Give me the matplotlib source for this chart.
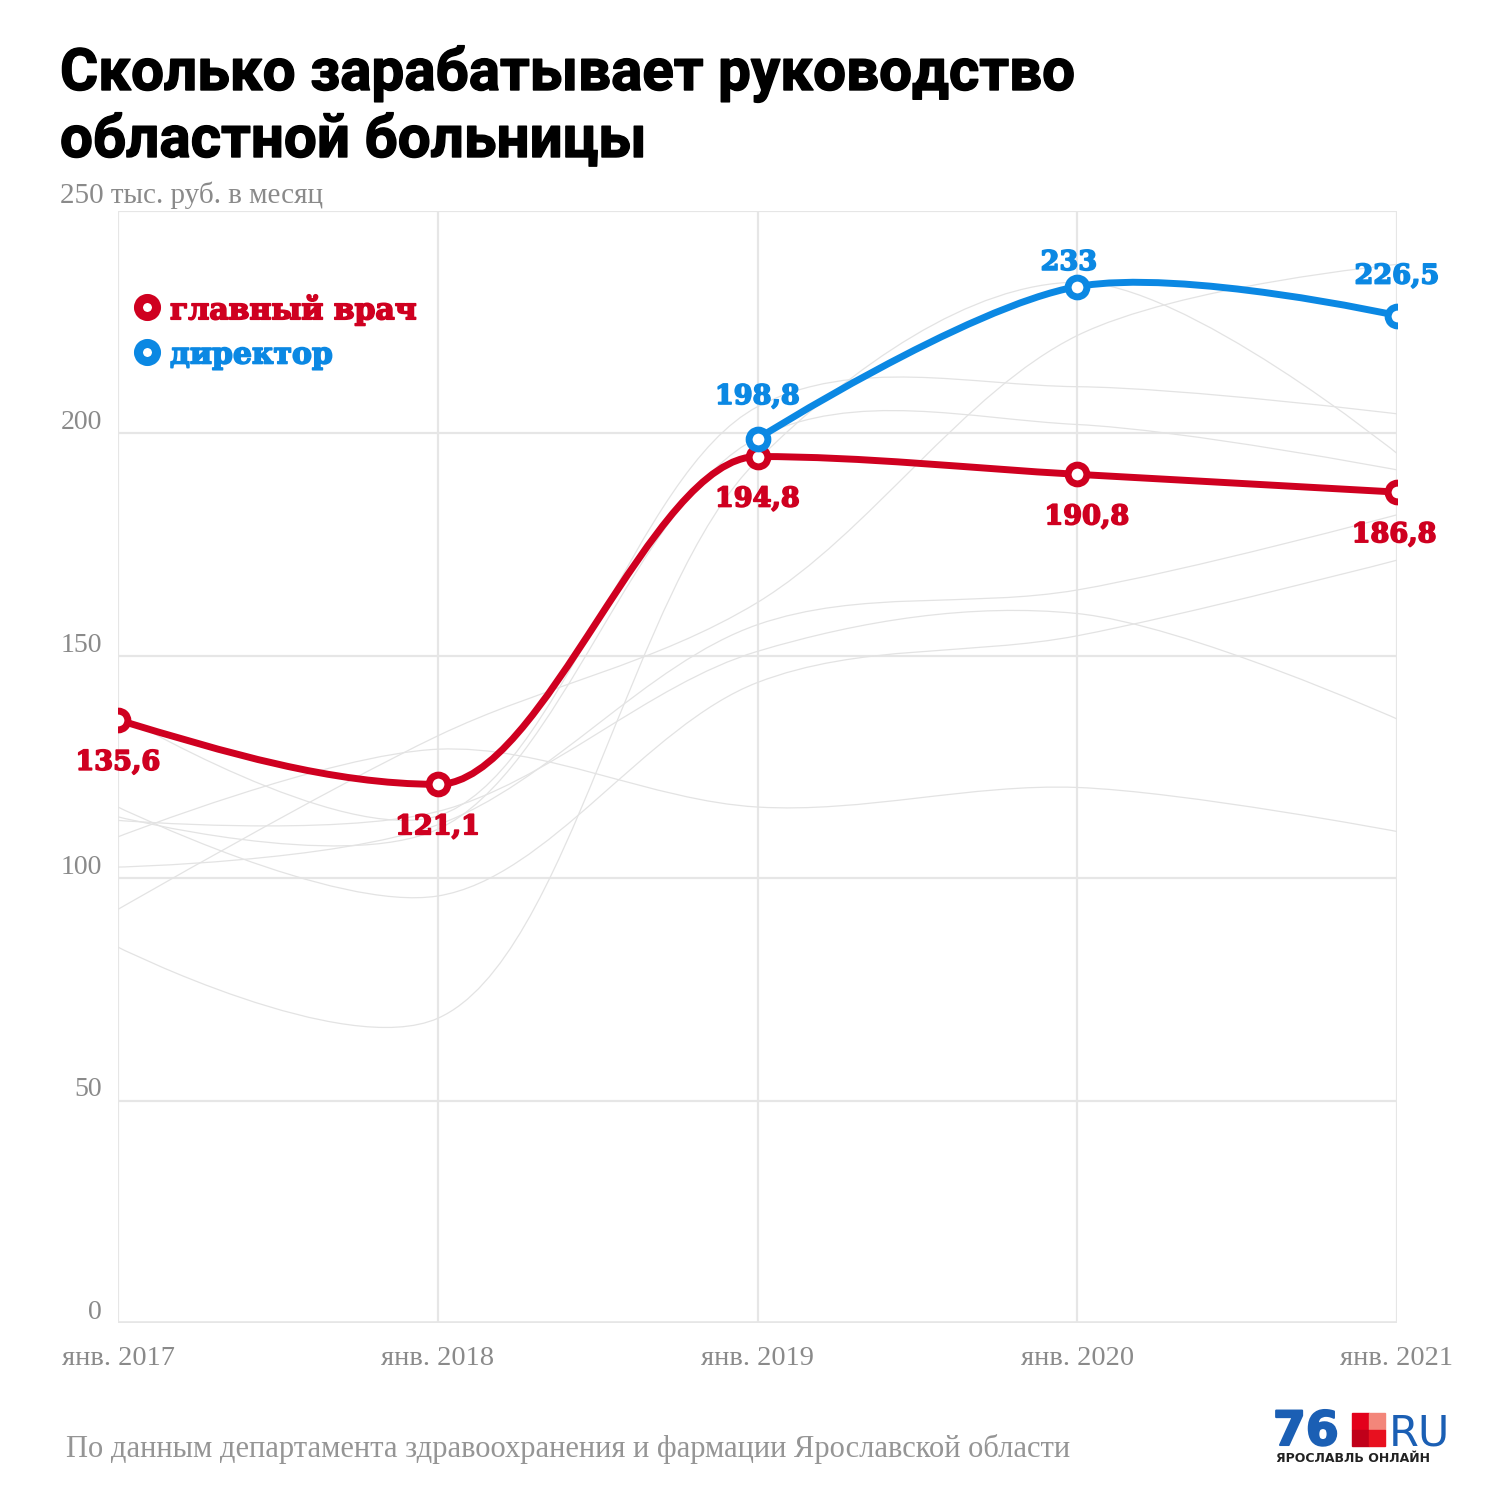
import numpy as np
import matplotlib
matplotlib.use("Agg")
import matplotlib.pyplot as plt
import matplotlib.patheffects as pe
from matplotlib.path import Path
from matplotlib.patches import PathPatch, Rectangle

# --- данные ---
years = ["янв. 2017", "янв. 2018", "янв. 2019", "янв. 2020", "янв. 2021"]
chief_doctor = [135.6, 121.1, 194.8, 190.8, 186.8]
chief_labels = ["135,6", "121,1", "194,8", "190,8", "186,8"]
director_years = [2, 3, 4]
director = [198.8, 233.0, 226.5]
director_labels = ["198,8", "233", "226,5"]
y_ticks = [0, 50, 100, 150, 200]
y_top = 250

# фоновые (серые) линии
bg_1 = [116.0, 96.0, 144.0, 154.5, 171.5]
bg_2 = [84.5, 68.5, 194.0, 234.0, 195.5]
bg_3 = [93.0, 132.0, 162.0, 222.0, 238.0]
bg_4 = [137.0, 114.0, 206.0, 210.5, 204.4]
bg_5 = [113.8, 111.0, 199.0, 202.0, 191.8]
bg_6 = [102.5, 112.0, 157.0, 164.8, 181.7]
bg_7 = [109.3, 129.0, 116.0, 120.4, 110.5]
bg_8 = [113.0, 115.0, 151.0, 159.5, 135.8]
background = [bg_1, bg_2, bg_3, bg_4, bg_5, bg_6, bg_7, bg_8]

RED = "#cf0020"
BLUE = "#0b88e3"
GRID = "#e6e6e6"
GREY = "#8a8a8a"


def catmull_rom(ax, xs, ys, alpha=0.5):
    """Кривая Катмулла-Рома (как d3.curveCatmullRom) в пиксельном пространстве"""
    pts = ax.transData.transform(np.column_stack([xs, ys]))
    n = len(pts)
    verts = [pts[0]]
    codes = [Path.MOVETO]
    for i in range(n - 1):
        p1, p2 = pts[i], pts[i + 1]
        l12 = np.linalg.norm(p2 - p1)
        l12_a, l12_2a = l12 ** alpha, l12 ** (2 * alpha)
        c1, c2 = p1.copy(), p2.copy()
        if i > 0:
            p0 = pts[i - 1]
            l01 = np.linalg.norm(p1 - p0)
            l01_a, l01_2a = l01 ** alpha, l01 ** (2 * alpha)
            a = 2 * l01_2a + 3 * l01_a * l12_a + l12_2a
            m = 3 * l01_a * (l01_a + l12_a)
            c1 = (p1 * a - p0 * l12_2a + p2 * l01_2a) / m
        if i + 2 < n:
            p3 = pts[i + 2]
            l23 = np.linalg.norm(p3 - p2)
            l23_a, l23_2a = l23 ** alpha, l23 ** (2 * alpha)
            b = 2 * l23_2a + 3 * l23_a * l12_a + l12_2a
            m = 3 * l23_a * (l23_a + l12_a)
            c2 = (p2 * b + p1 * l23_2a - p3 * l12_2a) / m
        verts += [c1, c2, p2]
        codes += [Path.CURVE4] * 3
    verts = ax.transData.inverted().transform(np.array(verts))
    return Path(verts, codes)


def monotone(xs, ys):
    """Монотонная кривая (как d3.curveMonotoneX)"""
    xs = np.asarray(xs, float)
    ys = np.asarray(ys, float)
    n = len(xs)
    h = np.diff(xs)
    s = np.diff(ys) / h
    t = np.zeros(n)
    for i in range(1, n - 1):
        p = (s[i - 1] * h[i] + s[i] * h[i - 1]) / (h[i - 1] + h[i])
        t[i] = (np.sign(s[i - 1]) + np.sign(s[i])) * min(abs(s[i - 1]), abs(s[i]), 0.5 * abs(p))
    t[0] = (3 * s[0] - t[1]) / 2
    t[-1] = (3 * s[-1] - t[-2]) / 2
    verts = [(xs[0], ys[0])]
    codes = [Path.MOVETO]
    for i in range(n - 1):
        dx = h[i] / 3
        verts += [(xs[i] + dx, ys[i] + dx * t[i]),
                  (xs[i + 1] - dx, ys[i + 1] - dx * t[i + 1]),
                  (xs[i + 1], ys[i + 1])]
        codes += [Path.CURVE4] * 3
    return Path(verts, codes)


fig = plt.figure(figsize=(15, 15), dpi=100)
ax = fig.add_axes([118 / 1500, 1 - 1323 / 1500, 1279 / 1500, 1112 / 1500])
ax.set_xlim(0, len(years) - 1)
ax.set_ylim(0, y_top)
for s in ax.spines.values():
    s.set_visible(False)
ax.set_xticks([])
ax.set_yticks([])

# сетка
for v in y_ticks + [y_top]:
    ax.axhline(v, color=GRID, lw=1.6, zorder=0)
ax.axhline(0, color=GRID, lw=2.6, zorder=0)
for i in range(len(years)):
    ax.axvline(i, color=GRID, lw=1.6, zorder=0)

serif = ["Liberation Serif", "DejaVu Serif"]
for v in y_ticks:
    ax.annotate(str(v), xy=(0, v), xycoords=("axes fraction", "data"),
                xytext=(-11.5, 3), textcoords="offset points",
                ha="right", va="baseline", fontsize=20, color=GREY, family=serif)
ax.annotate(f"{y_top} тыс. руб. в месяц", xy=(0, y_top), xycoords=("axes fraction", "data"),
            xytext=(-42, 5.5), textcoords="offset points",
            ha="left", va="baseline", fontsize=21, color=GREY, family=serif)
for i, lab in enumerate(years):
    ax.annotate(lab, xy=(i, 0), xycoords="data", xytext=(0, -30.5), textcoords="offset points",
                ha="center", va="baseline", fontsize=20.5, color=GREY, family=serif)

# фоновые линии
xs_all = np.arange(len(years))
for series in background:
    ax.add_patch(PathPatch(catmull_rom(ax, xs_all, series), fill=False,
                           edgecolor="#e3e3e3", lw=0.9, zorder=1))

# основные линии
ax.add_patch(PathPatch(monotone(xs_all, chief_doctor), fill=False,
                       edgecolor=RED, lw=5, zorder=3, capstyle="round"))
ax.add_patch(PathPatch(catmull_rom(ax, director_years, director), fill=False,
                       edgecolor=BLUE, lw=5, zorder=3, capstyle="round"))
ax.plot(xs_all, chief_doctor, "o", ms=13.5, mfc="white", mec=RED, mew=5, zorder=4)
ax.plot(director_years, director, "o", ms=13.5, mfc="white", mec=BLUE, mew=5, zorder=4)

lab_font = dict(fontsize=19.5, fontweight="bold", family=["DejaVu Serif"], ha="center",
                va="baseline", textcoords="offset points")
red_dx = [0, 0, 0, 7, -2]
blue_dx = [0, -6, 0]
blue_dy = [25, 12, 23]
for x, v, t, dx in zip(xs_all, chief_doctor, chief_labels, red_dx):
    ax.annotate(t, xy=(x, v), xytext=(dx, -36), color=RED,
                path_effects=[pe.withStroke(linewidth=1.2, foreground=RED)], **lab_font)
for x, v, t, dx, dy in zip(director_years, director, director_labels, blue_dx, blue_dy):
    ax.annotate(t, xy=(x, v), xytext=(dx, dy), color=BLUE,
                path_effects=[pe.withStroke(linewidth=1.2, foreground=BLUE)], **lab_font)

# легенда
for yy, col, txt in [(307, RED, "главный врач"), (352, BLUE, "директор")]:
    fy = 1 - yy / 1500
    fig.lines.append(plt.Line2D([147 / 1500], [fy], marker="o", ms=13, mfc="white",
                                mec=col, mew=6.5, transform=fig.transFigure))
    fig.text(170 / 1500, fy, txt, color=col, fontsize=21.5, fontweight="bold",
             family=["DejaVu Serif"], ha="left", va="center_baseline",
             path_effects=[pe.withStroke(linewidth=1.2, foreground=col)])

# заголовок
title_font = dict(fontsize=42, fontweight="bold", family=["Roboto", "DejaVu Sans"],
                  color="black", ha="left", va="baseline",
                  path_effects=[pe.withStroke(linewidth=1.0, foreground="black")])
fig.text(60 / 1500, 1 - 90 / 1500, "Сколько зарабатывает руководство", **title_font)
fig.text(60 / 1500, 1 - 157 / 1500, "областной больницы", **title_font)

# подпись
fig.text(66 / 1500, 1 - 1457 / 1500,
         "По данным департамента здравоохранения и фармации Ярославской области",
         fontsize=22, color="#959595", family=serif, ha="left", va="baseline")

# логотип
fig.text(1273 / 1500, 1 - 1445 / 1500, "76", fontsize=34, fontweight="heavy",
         color="#1b5fb4", family=["DejaVu Sans"], ha="left", va="baseline",
         path_effects=[pe.withStroke(linewidth=1.5, foreground="#1b5fb4")])
sq = 16.5
cols = [["#e3001b", "#f3867a"], ["#c0001a", "#e8101f"]]
for r in range(2):
    for c in range(2):
        fig.patches.append(Rectangle(((1352 + c * sq) / 1500, 1 - (1413 + (r + 1) * sq) / 1500),
                                     sq / 1500, sq / 1500, color=cols[r][c],
                                     transform=fig.transFigure))
fig.text(1389 / 1500, 1 - 1445 / 1500, "RU", fontsize=31, color="#1b5fb4",
         family=["DejaVu Sans"], ha="left", va="baseline")
fig.text(1276 / 1500, 1 - 1462 / 1500, "ЯРОСЛАВЛЬ ОНЛАЙН", fontsize=9, fontweight="bold",
         color="#222222", family=["DejaVu Sans"], ha="left", va="baseline")

fig.savefig("out.png", dpi=100, facecolor="white")
